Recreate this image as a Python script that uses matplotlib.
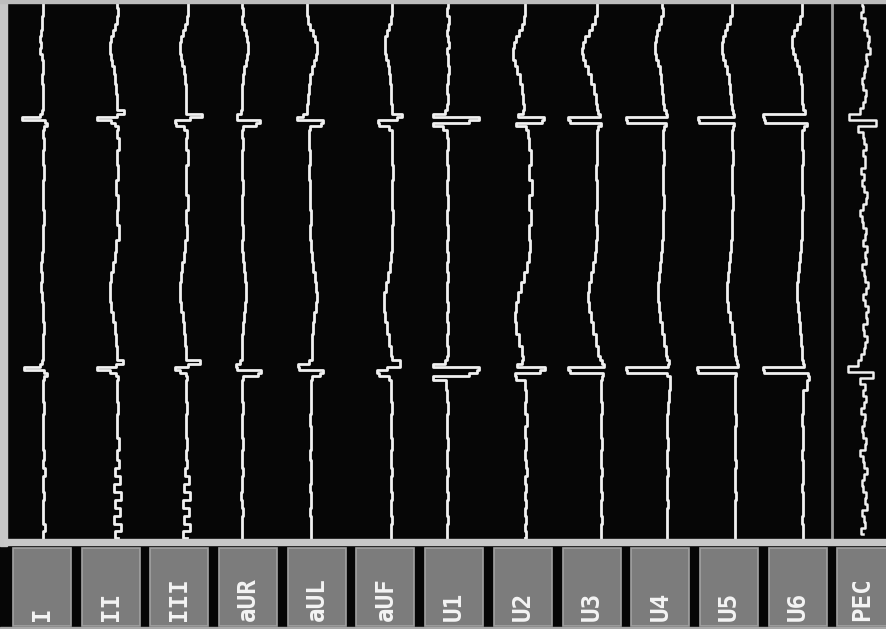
import matplotlib
matplotlib.use("Agg")
import matplotlib.pyplot as plt  # noqa: E402
import numpy as np  # noqa: E402
from matplotlib.patches import Rectangle  # noqa: E402

# channel buttons, left to right
LABELS = ["I", "II", "III", "aUR", "aUL", "aUF", "U1", "U2", "U3", "U4", "U5", "U6", "PEC"]

# sweep rows (one sample per pixel row, top to bottom) shared by the 12 ECG leads
T = [0, 8, 16, 24, 30, 36, 42, 48, 54, 60, 66, 74, 84, 94, 104, 110, 114, 117, 120, 123,
     126, 130, 138, 150, 165, 180, 195, 210, 225, 240, 252, 262, 272, 282, 292, 302, 312, 322, 334, 346,
     356, 360, 364, 367, 370, 373, 376, 380, 390, 402, 414, 426, 438, 450, 460, 468, 476, 484, 492, 500,
     508, 516, 524, 531, 538]

# deflection of each lead from its channel centre at the rows in T
LEAD_I = [2, 2, 1, 1, 0, -1, 0, -1, 1, 2, 2, 1, 2, 2, 2, 1, -1, -19, 4, 6,
          3, 2, 3, 2, 3, 2, 2, 3, 2, 2, 1, 0, 1, 0, 1, 2, 2, 3, 2, 2,
          2, 1, -1, -17, 3, 6, 3, 2, 2, 3, 2, 2, 2, 3, 2, 4, 2, 2, 3, 2,
          2, 2, 4, 2, 2]
LEAD_II = [8, 9, 8, 6, 4, 2, 1, 1, 2, 3, 5, 6, 7, 8, 8, 15, 8, -12, 2, 6,
           9, 8, 10, 8, 9, 7, 9, 8, 10, 7, 6, 4, 2, 1, 1, 2, 4, 6, 7, 8,
           8, 14, 7, -12, 1, 7, 9, 8, 8, 9, 8, 8, 10, 8, 10, 6, 11, 5, 12, 6,
           11, 5, 12, 6, 9]
LEAD_III = [10, 10, 9, 7, 5, 3, 2, 2, 3, 4, 6, 7, 8, 8, 8, 8, 24, 12, -3, -2,
            6, 9, 8, 10, 8, 8, 10, 8, 9, 7, 6, 4, 3, 2, 2, 3, 5, 6, 7, 8,
            8, 22, 10, -3, 2, 8, 9, 8, 8, 9, 8, 8, 9, 8, 9, 7, 11, 6, 12, 5,
            11, 6, 12, 5, 9]
LEAD_AVR = [-4, -3, -4, -2, 0, 1, 2, 2, 1, 0, -2, -3, -4, -4, -4, -5, -9, -9, 14, 10,
            -3, -4, -3, -4, -4, -3, -4, -4, -3, -4, -3, -2, -1, 0, 0, -1, -2, -3, -4, -4,
            -4, -6, -10, -9, 15, 12, -3, -4, -4, -3, -4, -4, -3, -4, -4, -3, -4, -4, -5, -4,
            -3, -4, -4, -4, -4]
LEAD_AVL = [-8, -8, -7, -5, -2, 0, 2, 2, 1, -1, -3, -5, -6, -7, -8, -8, -12, -18, 8, 6,
            -5, -6, -6, -5, -6, -5, -5, -4, -5, -4, -3, -2, 0, 1, 2, 1, -1, -2, -3, -3,
            -3, -6, -17, -16, 8, 5, -3, -4, -4, -4, -5, -4, -4, -5, -4, -4, -4, -5, -4, -4,
            -5, -4, -4, -4, -4]
LEAD_AVF = [9, 9, 8, 6, 4, 2, 2, 2, 3, 5, 6, 7, 8, 8, 9, 9, 19, 14, -5, -4,
            6, 9, 9, 9, 10, 9, 9, 10, 9, 9, 8, 7, 5, 3, 1, 1, 2, 4, 6, 8,
            9, 17, 17, 4, -6, -4, 6, 8, 8, 9, 8, 8, 9, 8, 8, 9, 8, 8, 9, 8,
            8, 9, 8, 8, 8]
LEAD_V1 = [-3, -4, -2, -3, -4, -3, -2, -4, -3, -3, -2, -3, -4, -3, -4, -6, -18, 28, 18, -18,
           -8, -4, -3, -4, -3, -4, -3, -4, -3, -4, -3, -4, -3, -4, -4, -3, -4, -3, -4, -3,
           -4, -6, -18, 28, 26, 18, -18, -5, -4, -3, -4, -4, -3, -4, -4, -3, -4, -4, -3, -4,
           -4, -3, -4, -4, -4]
LEAD_V2 = [5, 5, 4, 2, -1, -4, -6, -7, -7, -5, -3, 0, 2, 3, 4, 3, -2, 24, 22, -4,
           6, 8, 9, 11, 9, 12, 9, 11, 9, 10, 9, 7, 4, 1, -2, -4, -5, -4, -1, 2,
           3, 2, -3, 25, 20, -5, -4, 5, 6, 5, 7, 5, 6, 5, 6, 7, 5, 6, 5, 6,
           5, 6, 5, 6, 5]
LEAD_V3 = [9, 9, 7, 4, 1, -3, -5, -6, -5, -3, 0, 3, 6, 8, 9, 10, 12, -20, -18, 13,
           10, 9, 9, 9, 8, 9, 9, 8, 9, 8, 7, 5, 3, 1, 0, 1, 3, 5, 8, 10,
           12, 14, 16, -20, -18, 15, 14, 13, 13, 14, 13, 13, 14, 13, 13, 14, 13, 13, 14, 13,
           13, 14, 13, 13, 13]
LEAD_V4 = [5, 6, 4, 2, 0, -1, -2, -2, -1, 1, 3, 4, 5, 6, 7, 9, 10, -31, -30, 9,
           7, 6, 6, 7, 6, 6, 7, 6, 6, 5, 4, 3, 2, 1, 1, 2, 3, 5, 7, 9,
           10, 12, 11, -31, -30, 10, 13, 13, 12, 11, 10, 10, 11, 10, 10, 11, 10, 10, 10, 11,
           10, 10, 10, 10, 10]
LEAD_V5 = [7, 7, 5, 2, 0, -2, -3, -3, -2, 0, 2, 4, 5, 6, 7, 8, 9, -27, -26, 9,
           8, 7, 7, 8, 7, 7, 8, 7, 7, 6, 5, 4, 3, 2, 2, 3, 5, 7, 9, 10,
           11, 12, 13, -28, -27, 11, 10, 10, 10, 10, 11, 10, 10, 10, 11, 10, 10, 10, 11, 10,
           10, 10, 10, 10, 10]
LEAD_V6 = [9, 9, 7, 4, 1, -1, -1, 0, 2, 4, 6, 8, 9, 9, 10, 12, -30, -29, -28, 14,
           11, 9, 9, 10, 9, 9, 10, 9, 9, 8, 7, 6, 5, 4, 4, 5, 6, 7, 8, 9,
           9, 10, 11, -30, -29, 15, 16, 14, 10, 10, 9, 10, 10, 9, 10, 10, 10, 9, 10, 10,
           10, 9, 10, 10, 10]

# PEC channel is sampled on its own finer grid (every 6 rows)
PEC_T = np.arange(0, 540, 6)
LEAD_PEC = [0, 1, -1, 3, 2, 5, 7, 6, 8, 4, 5, 3, 2, 0, 1, 4, 3, 1, -2, -13,
            14, -4, 1, 2, 4, 1, 3, 3, -1, 2, 0, 2, 5, 4, 1, -2, 0, 1, 4, 3,
            1, 5, 3, 4, 0, 2, 3, 6, 4, 1, 3, 6, 4, 5, 1, 2, 5, 3, 2, -1,
            -4, -14, 11, -2, 3, 1, 4, 2, -1, 3, 2, 0, 1, 4, 3, -2, 1, 2, 5, 2,
            0, 1, 4, 3, 5, 0, 2, 3, -1, 1]

ECG = [LEAD_I, LEAD_II, LEAD_III, LEAD_AVR, LEAD_AVL, LEAD_AVF,
       LEAD_V1, LEAD_V2, LEAD_V3, LEAD_V4, LEAD_V5, LEAD_V6]

W, H = 887, 629
BG = "#060606"
INK = "#f0f0f0"
COL0, PITCH = 41.0, 68.4          # trace channel centres
BTN0, BTN_PITCH, BTN_W = 13.0, 68.7, 58.0
SWEEP_BOTTOM = 539

fig = plt.figure(figsize=(W / 100, H / 100), dpi=100, facecolor=BG)
ax = fig.add_axes([0, 0, 1, 1])
ax.set_xlim(0, W)
ax.set_ylim(H, 0)
ax.axis("off")

# frame: left rail, top line, sweep/button divider, PEC divider, bottom edge
ax.add_patch(Rectangle((0, 0), 7, SWEEP_BOTTOM + 7, color="#c6c6c6", zorder=3))
ax.add_patch(Rectangle((0, 0), W, 2.5, color="#bdbdbd", zorder=3))
ax.add_patch(Rectangle((4, SWEEP_BOTTOM), W - 4, 6, color="#c8c8c8", zorder=3))
ax.plot([832, 832], [0, SWEEP_BOTTOM], color="#a0a0a0", lw=2, zorder=1)
ax.add_patch(Rectangle((0, 626.5), W, 2.5, color="#a8a8a8", zorder=3))

# sweeps
for i, vals in enumerate(ECG):
    ax.plot(COL0 + PITCH * i + np.asarray(vals, float), T, drawstyle="steps-pre",
            color=INK, lw=2.0, zorder=2)
ax.plot(COL0 + PITCH * 12 + np.asarray(LEAD_PEC, float), PEC_T, drawstyle="steps-pre",
        color=INK, lw=1.8, zorder=2)

# channel buttons
for i, lab in enumerate(LABELS):
    x0 = BTN0 + BTN_PITCH * i
    w = min(BTN_W, W - x0)
    ax.add_patch(Rectangle((x0, 548), w, 78, facecolor="#7c7c7c", edgecolor="#a2a2a2",
                           lw=1.2, zorder=3))
    ax.text(x0 + w / 2, 621, lab, rotation=90, ha="center", va="bottom", fontsize=17.5,
            fontweight="bold", family="DejaVu Sans Mono", color="#f4f4f4", zorder=4)

fig.savefig("out.png", dpi=100, facecolor=BG)
plt.close(fig)
